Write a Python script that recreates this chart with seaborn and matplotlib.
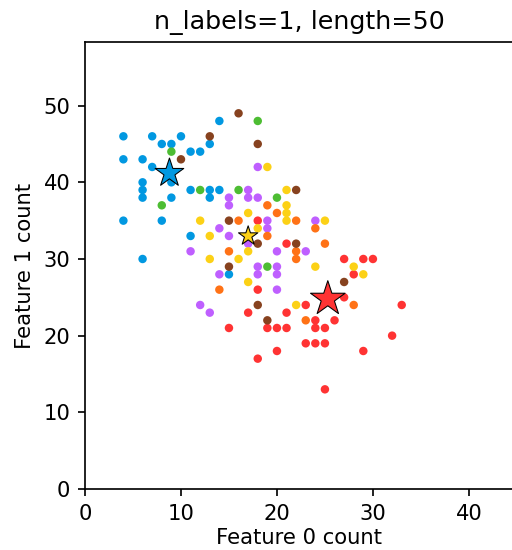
import numpy as np
import pandas as pd
import matplotlib
matplotlib.use("Agg")
import matplotlib.pyplot as plt
import seaborn as sns

# label code: sum of (class0 -> 1, class1 -> 2, class2 -> 4)
COLORS = {1: "#FF3333", 2: "#0198E1", 3: "#BF5FFF", 4: "#FCD116",
          5: "#FF7216", 6: "#4DBD33", 7: "#87421F"}

blue_x = [4, 7, 10, 8, 9, 13, 14, 11, 12, 4, 6, 7, 6, 6, 6, 9, 9, 11, 13, 14, 13, 4, 8, 11, 6, 15]
blue_y = [46, 46, 46, 45, 45, 45, 48, 44, 44, 43, 43, 42, 40, 39, 38, 40, 38, 39, 39, 39, 38, 35, 35, 33, 30, 28]

green_x = [9, 12, 8, 18, 16, 20, 19]
green_y = [44, 39, 37, 48, 39, 38, 29]

brown_x = [13, 10, 16, 18, 22, 15, 18, 22, 15, 18, 19, 27]
brown_y = [46, 43, 49, 45, 39, 35, 32, 32, 29, 24, 22, 27]

purple_x = [14, 11, 14, 12, 13, 18, 17, 15, 17, 18, 15, 19, 24, 19, 15, 17, 20, 23, 18, 20, 18, 20, 20]
purple_y = [34, 31, 28, 24, 23, 42, 39, 38, 38, 38, 37, 35, 35, 34, 33, 32, 31, 31, 29, 29, 28, 28, 26]

yellow_x = [12, 13, 13, 19, 21, 21, 17, 21, 21, 18, 17, 16, 24, 17, 22, 25, 28, 29]
yellow_y = [35, 33, 30, 42, 39, 37, 36, 36, 35, 34, 31, 30, 29, 27, 24, 35, 29, 28]

orange_x = [14, 19, 20, 16, 22, 19, 15, 22, 22, 23, 25, 24, 28]
orange_y = [26, 37, 36, 35, 35, 33, 31, 31, 30, 22, 32, 34, 24]

red_x = [18, 21, 18, 17, 21, 23, 15, 19, 20, 21, 20, 18, 27, 29, 30, 28, 27, 33,
         24, 26, 24, 25, 23, 24, 25, 32, 29, 25]
red_y = [35, 32, 26, 23, 23, 24, 21, 21, 21, 21, 18, 17, 30, 30, 30, 28, 25, 24,
         22, 22, 21, 21, 19, 19, 19, 20, 18, 13]

groups = [(red_x, red_y, 1), (blue_x, blue_y, 2), (purple_x, purple_y, 3),
          (yellow_x, yellow_y, 4), (orange_x, orange_y, 5), (green_x, green_y, 6),
          (brown_x, brown_y, 7)]

# class centres (p_w_c * length) and class priors p_c
star_x = [25.3, 8.8, 17.0]
star_y = [24.8, 41.2, 33.0]
p_c = [0.43, 0.35, 0.22]
star_code = [1, 2, 4]

rows = []
for gx, gy, code in groups:
    for a, b in zip(gx, gy):
        rows.append((a, b, code))
df = pd.DataFrame(rows, columns=["f0", "f1", "code"])

stars = pd.DataFrame({"f0": star_x, "f1": star_y, "code": star_code,
                      "p": p_c})

fig = plt.figure(figsize=(512 / 152, 550 / 152), dpi=152)
ax = fig.add_axes([85 / 512, 61 / 550, 429 / 512, 447 / 550])

sns.scatterplot(data=df, x="f0", y="f1", hue="code", palette=COLORS,
                marker=".", s=36, edgecolor="face", linewidth=1.0,
                legend=False, ax=ax)
sns.scatterplot(data=stars, x="f0", y="f1", hue="code", palette=COLORS,
                marker="*", s=20 + 1500 * stars["p"].to_numpy() ** 2,
                edgecolor="black", linewidth=0.5, legend=False, ax=ax)

ax.set_xlim(0, 44.7)
ax.set_ylim(0, 58.3)
ax.set_xticks([0, 10, 20, 30, 40])
ax.set_yticks([0, 10, 20, 30, 40, 50])
ax.set_xlabel("Feature 0 count", labelpad=2)
ax.set_ylabel("Feature 1 count")
ax.set_title("n_labels=1, length=50")

fig.savefig("out.png", dpi=152)
